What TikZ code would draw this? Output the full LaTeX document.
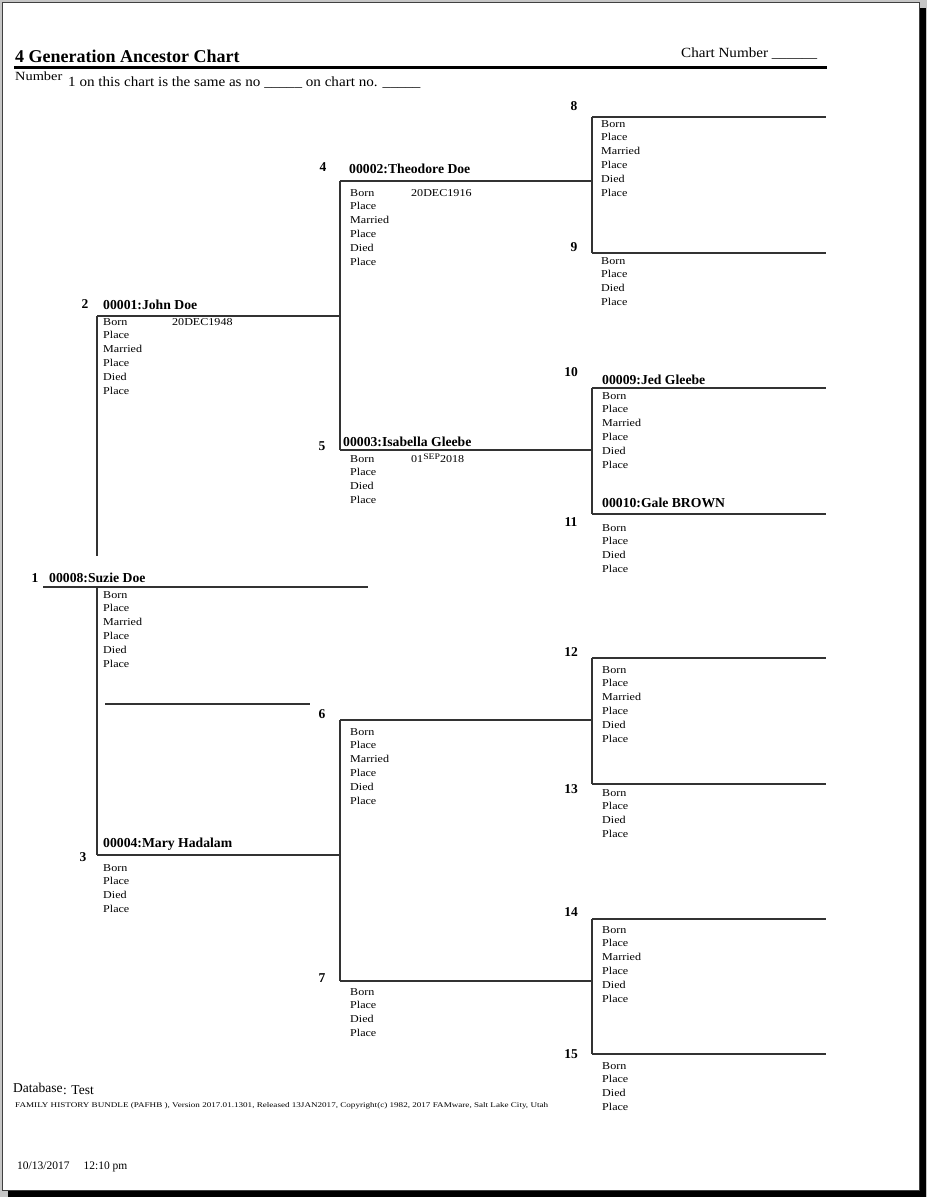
\documentclass[tikz,border=0pt]{standalone}
\usepackage{graphicx}
\usepackage{fontspec}
\setmainfont{Liberation Serif}
\newfontfamily\smf[FakeStretch=1.15]{Liberation Serif}
\newfontfamily\midf[FakeStretch=1.08]{Liberation Serif}
\newcommand\infolines[4]{%
  \foreach \txt [count=\i from 0] in {#4} {
    \node[info] (#1-\i) at (#2, #3+\i*13.8) {\txt};
  }%
}
\tikzset{
  ln/.style={draw=black!80, line width=1.1pt},
  info/.style={font=\smf\fontsize{10.5}{12}\selectfont, anchor=base west, inner sep=0pt},
  pname/.style={font=\bfseries\fontsize{13.7}{15}\selectfont, anchor=base west, inner sep=0pt},
  pnum/.style={font=\bfseries\fontsize{13.5}{15}\selectfont, anchor=center, inner sep=0pt},
  plain/.style={anchor=base west, inner sep=0pt}
}
\begin{document}
\begin{tikzpicture}[x=1pt,y=-1pt]
\useasboundingbox (0,0) rectangle (927,1197);
% page
\fill[gray!45] (0,0) rectangle (927,1197);
\fill[black] (8,8) rectangle (926,1197);
\fill[white] (2,2) rectangle (919.5,1190.5);
\draw[black!75, line width=0.8pt] (2,2) rectangle (919.5,1190.5);

% header
\node[plain, font=\bfseries\fontsize{18}{20}\selectfont] (title) at (15,62) {4 Generation Ancestor Chart};
\node[plain, font=\midf\fontsize{14}{16}\selectfont] (chartno) at (681,57) {Chart Number \_\_\_\_\_\_};
\coordinate (ruleL) at (14,67.5);
\coordinate (ruleR) at (827,67.5);
\draw[black, line width=2.6pt] (ruleL) -- (ruleR);
\node[plain, font=\smf\fontsize{12.5}{14}\selectfont] (numw) at (15,80) {Number};
\node[plain, font=\midf\fontsize{14}{16}\selectfont] (same) at (68,86) {1 on this chart is the same as no \_\_\_\_\_ on chart no. \_\_\_\_\_};

% coordinates of lines
\coordinate (a1) at (43,587);   \coordinate (b1) at (368,587);
\coordinate (v1t) at (97,316);  \coordinate (v1m) at (97,556);
\coordinate (v1u) at (97,587);  \coordinate (v1b) at (97,855);
\coordinate (e2) at (340,316);  \coordinate (e3) at (340,855);
\coordinate (s1) at (105,704);  \coordinate (s2) at (310,704);
\coordinate (a4) at (340,181);  \coordinate (e4) at (592,181);
\coordinate (a5) at (340,450);  \coordinate (e5) at (592,450);
\coordinate (a6) at (340,720);  \coordinate (e6) at (592,720);
\coordinate (a7) at (340,981);  \coordinate (e7) at (592,981);
\coordinate (a8) at (592,117);  \coordinate (e8) at (826,117);
\coordinate (a9) at (592,253);  \coordinate (e9) at (826,253);
\coordinate (a10) at (592,388); \coordinate (e10) at (826,388);
\coordinate (a11) at (592,514); \coordinate (e11) at (826,514);
\coordinate (a12) at (592,658); \coordinate (e12) at (826,658);
\coordinate (a13) at (592,784); \coordinate (e13) at (826,784);
\coordinate (a14) at (592,919); \coordinate (e14) at (826,919);
\coordinate (a15) at (592,1054);\coordinate (e15) at (826,1054);

% lines
\draw[ln] (a1) -- (b1);
\draw[ln] (v1t) -- (v1m);
\draw[ln] (v1u) -- (v1b);
\draw[ln] (v1t) -- (e2);
\draw[ln] (v1b) -- (e3);
\draw[ln] (s1) -- (s2);
\draw[ln] (a4) -- (a5);
\draw[ln] (a4) -- (e4);
\draw[ln] (a5) -- (e5);
\draw[ln] (a6) -- (a7);
\draw[ln] (a6) -- (e6);
\draw[ln] (a7) -- (e7);
\draw[ln] (a8) -- (a9);  \draw[ln] (a8) -- (e8);  \draw[ln] (a9) -- (e9);
\draw[ln] (a10) -- (a11); \draw[ln] (a10) -- (e10); \draw[ln] (a11) -- (e11);
\draw[ln] (a12) -- (a13); \draw[ln] (a12) -- (e12); \draw[ln] (a13) -- (e13);
\draw[ln] (a14) -- (a15); \draw[ln] (a14) -- (e14); \draw[ln] (a15) -- (e15);

% numbers
\node[pnum] (n1) at (35,578) {1};
\node[pnum] (n2) at (85,304) {2};
\node[pnum] (n3) at (83,857) {3};
\node[pnum] (n4) at (323,167) {4};
\node[pnum] (n5) at (322,446) {5};
\node[pnum] (n6) at (322,714) {6};
\node[pnum] (n7) at (322,978) {7};
\node[pnum] (n8) at (574,106) {8};
\node[pnum] (n9) at (574,247) {9};
\node[pnum] (n10) at (571,372) {10};
\node[pnum] (n11) at (571,522) {11};
\node[pnum] (n12) at (571,652) {12};
\node[pnum] (n13) at (571,789) {13};
\node[pnum] (n14) at (571,912) {14};
\node[pnum] (n15) at (571,1054) {15};

% names
\node[pname] (name1) at (49,582) {00008:Suzie Doe};
\node[pname] (name2) at (103,309) {00001:John Doe};
\node[pname] (name3) at (103,847) {00004:Mary Hadalam};
\node[pname] (name4) at (349,173) {00002:Theodore Doe};
\node[pname] (name5) at (343,446) {00003:Isabella Gleebe};
\node[pname] (name10) at (602,384) {00009:Jed Gleebe};
\node[pname] (name11) at (602,507) {00010:Gale BROWN};

% info blocks
\infolines{i1}{103}{598}{Born,Place,Married,Place,Died,Place}
\infolines{i2}{103}{325}{Born,Place,Married,Place,Died,Place}
\infolines{i3}{103}{871}{Born,Place,Died,Place}
\infolines{i4}{350}{196}{Born,Place,Married,Place,Died,Place}
\infolines{i5}{350}{462}{Born,Place,Died,Place}
\infolines{i6}{350}{735}{Born,Place,Married,Place,Died,Place}
\infolines{i7}{350}{995}{Born,Place,Died,Place}
\infolines{i8}{601}{127}{Born,Place,Married,Place,Died,Place}
\infolines{i9}{601}{264}{Born,Place,Died,Place}
\infolines{i10}{602}{399}{Born,Place,Married,Place,Died,Place}
\infolines{i11}{602}{531}{Born,Place,Died,Place}
\infolines{i12}{602}{673}{Born,Place,Married,Place,Died,Place}
\infolines{i13}{602}{796}{Born,Place,Died,Place}
\infolines{i14}{602}{933}{Born,Place,Married,Place,Died,Place}
\infolines{i15}{602}{1069}{Born,Place,Died,Place}

% dates
\node[info] (d2) at (172,325) {20DEC1948};
\node[info] (d4) at (411,196) {20DEC1916};
\node[info] (d5) at (411,462) {01\raisebox{3pt}{\fontsize{8.5}{9}\selectfont SEP}2018};

% footer
\node[plain, font=\fontsize{13.5}{15}\selectfont] (db) at (13,1092) {Database};
\node[plain, font=\fontsize{13.5}{15}\selectfont] (dbv) at (63,1094) {: Test};
\node[plain] (soft) at (15,1107) {\resizebox{533pt}{5pt}{FAMILY HISTORY BUNDLE (PAFHB ), Version 2017.01.1301, Released 13JAN2017, Copyright(c) 1982, 2017 FAMware, Salt Lake City, Utah}};
\node[plain, font=\fontsize{11.5}{13}\selectfont] (date) at (17,1169) {10/13/2017\hspace{14pt}12:10 pm};
\end{tikzpicture}
\end{document}
